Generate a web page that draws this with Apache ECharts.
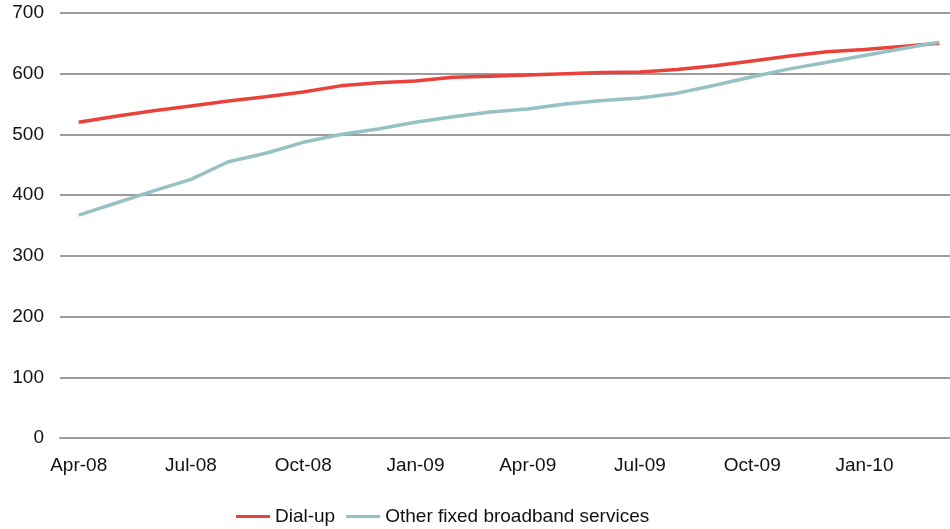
<!DOCTYPE html>
<html>
<head>
<meta charset="utf-8">
<script src="https://cdn.jsdelivr.net/npm/echarts@6/dist/echarts.min.js"></script>
<style>html,body{margin:0;padding:0;background:#fff;overflow:hidden;width:950px;height:529px}#c{width:960px;height:529px}</style>
</head>
<body>
<div id="c"></div>
<script>
const months = ['Apr-08','May-08','Jun-08','Jul-08','Aug-08','Sep-08','Oct-08','Nov-08','Dec-08',
  'Jan-09','Feb-09','Mar-09','Apr-09','May-09','Jun-09','Jul-09','Aug-09','Sep-09','Oct-09','Nov-09','Dec-09',
  'Jan-10','Feb-10','Mar-10'];
const dialUp = [520,530,539,547,555,562,570,580,585,588,594,596,598,600,602,603,607,613,621,629,636,640,645,650];
const otherBroadband = [367,387,407,426,455,469,487,500,509,520,529,537,542,550,556,560,568,581,595,608,619,630,641,652];
const yTicks = {min:0, max:700, interval:100};

const chart = echarts.init(document.getElementById('c'), null, {renderer:'canvas'});
const font = 'Liberation Sans, Arial, Helvetica, sans-serif';
chart.setOption({
  animation:false,
  backgroundColor:'#fff',
  grid:{left:60, top:13, width:898, height:425, containLabel:false},
  legend:{
    left:231, top:502, icon:'rect',
    itemWidth:34, itemHeight:3, itemGap:11,
    textStyle:{fontFamily:font, fontSize:19, color:'#111'},
    data:['Dial-up','Other fixed broadband services']
  },
  xAxis:{
    type:'category', data:months, boundaryGap:true,
    axisLine:{lineStyle:{color:'#9c9c9c', width:2}},
    axisTick:{interval:2, length:7, lineStyle:{color:'#9c9c9c', width:2}},
    axisLabel:{interval:2, margin:18, fontFamily:font, fontSize:19, color:'#111'},
    splitLine:{show:false}
  },
  yAxis:{
    type:'value', min:yTicks.min, max:yTicks.max, interval:yTicks.interval,
    axisLine:{show:false}, axisTick:{show:false},
    axisLabel:{margin:16, fontFamily:font, fontSize:19, color:'#111'},
    splitLine:{lineStyle:{color:'#9c9c9c', width:2}}
  },
  series:[
    {name:'Dial-up', type:'line', data:dialUp, symbol:'none', showSymbol:false,
     lineStyle:{color:'#e8423a', width:3.5}, itemStyle:{color:'#e8423a'}, z:3},
    {name:'Other fixed broadband services', type:'line', data:otherBroadband, symbol:'none', showSymbol:false,
     lineStyle:{color:'#97c2c5', width:3.5}, itemStyle:{color:'#97c2c5'}, z:4}
  ]
});
</script>
</body>
</html>
